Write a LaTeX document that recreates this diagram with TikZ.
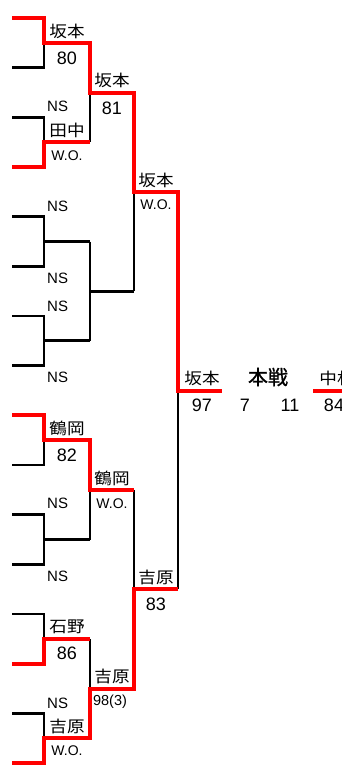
\documentclass[tikz,border=0pt]{standalone}
\usepackage{fontspec}
\setmainfont{Liberation Sans}
\newfontfamily\jpfont{Noto Sans CJK JP}[FakeStretch=1.1]
\newfontfamily\jpheavy{Noto Sans CJK JP}[FakeBold=1]
\usepackage{tikz}
\usetikzlibrary{positioning}
\definecolor{winred}{RGB}{255,0,0}

\begin{document}
\begin{tikzpicture}[x=1pt,y=-1pt,
  line/.style={draw=black,line width=2.8pt},
  win/.style={draw=winred,line width=4pt}]
  \useasboundingbox (0,0) rectangle (342,777);
  \clip (0,0) rectangle (342,777);

  % bracket, black
  \foreach \k in {0,...,7}{
    \pgfmathsetmacro{\ta}{18+99.33*\k}
    \pgfmathsetmacro{\tb}{\ta+49.67}
    \pgfmathsetmacro{\tm}{\ta+24.83}
    \draw[line] (12,\ta) -| (44,\tb) -- (12,\tb);
    \draw[line] (44,\tm) -- (90,\tm);
  }
  \foreach \j in {0,...,3}{
    \pgfmathsetmacro{\ta}{42.83+198.67*\j}
    \draw[line] (90,\ta) -- (90,\ta+99.33);
    \draw[line] (90,\ta+49.67) -- (134,\ta+49.67);
  }
  \foreach \j in {0,1}{
    \pgfmathsetmacro{\ta}{92.5+397.33*\j}
    \draw[line] (134,\ta) -- (134,\ta+198.67);
    \draw[line] (134,\ta+99.33) -- (178,\ta+99.33);
  }
  \draw[line] (178,191.8) -- (178,589.2);

  % winners, red
  \draw[win] (12,18) -| (44,42.8) -| (90,92.5) -| (134,191.8) -| (178,390.5) -- (222,390.5);
  \draw[win] (12,167) -| (44,142.2) -- (90,142.2);
  \draw[win] (12,415.3) -| (44,440.2) -| (90,489.8) -- (134,489.8);
  \draw[win] (12,663.7) -| (44,638.8) -- (90,638.8);
  \draw[win] (12,763) -| (44,738.2) -| (90,688.5) -| (134,589.2) -- (178,589.2);
  \draw[win] (313,390.5) -- (360,390.5);

  \begin{scope}[every node/.style={inner sep=0pt,font=\jpfont\fontsize{16}{16}\selectfont}]
    \node (sakaA) at (67,31) {坂本};
    \node (tanaka) at (67,130) {田中};
    \node (tsuruA) at (67,428) {鶴岡};
    \node (ishino) at (67,627) {石野};
    \node (yoshiA) at (67,726) {吉原};
    \node (sakaB) at (112,80.5) {坂本};
    \node (tsuruB) at (112,478) {鶴岡};
    \node (yoshiB) at (112,676.5) {吉原};
    \node (sakaC) at (156,180) {坂本};
    \node (yoshiC) at (156,577) {吉原};
    \node (sakaD) at (202,378) {坂本};
    \node (nakamura) at (337,378) {中村};
    \node (honsen) [font=\jpheavy\fontsize{20}{20}\selectfont] at (268,377) {本戦};
  \end{scope}

  \begin{scope}[every node/.style={inner sep=0pt,font=\fontsize{18}{18}\selectfont}]
    \node (s80) at (67,58) {80};
    \node (s81) at (112,108) {81};
    \node (s82) at (67,455) {82};
    \node (s86) at (67,653) {86};
    \node (s83) at (156,604) {83};
    \node (s97) at (202,405) {97};
    \node (s84) at (334,405) {84};
    \node (g7) at (245,405) {7};
    \node (g11) at (290,405) {11};
  \end{scope}

  \begin{scope}[every node/.style={inner sep=0pt,font=\fontsize{14}{14}\selectfont}]
    \node (woA) at (67,156) {W.O.};
    \node (woB) at (112,504) {W.O.};
    \node (woC) at (156,205) {W.O.};
    \node (woD) at (67,751) {W.O.};
    \node (s98) [font=\fontsize{14.5}{14.5}\selectfont] at (110,702) {98(3)};
  \end{scope}

  \begin{scope}[every node/.style={inner sep=0pt,anchor=west,font=\fontsize{15}{15}\selectfont}]
    \node (nsA) at (47,106) {NS};
    \node (nsB) at (47,206) {NS};
    \node (nsC) at (47,278) {NS};
    \node (nsD) at (47,306) {NS};
    \node (nsE) at (47,377) {NS};
    \node (nsF) at (47,503) {NS};
    \node (nsG) at (47,576) {NS};
    \node (nsH) at (47,703) {NS};
  \end{scope}
\end{tikzpicture}
\end{document}
